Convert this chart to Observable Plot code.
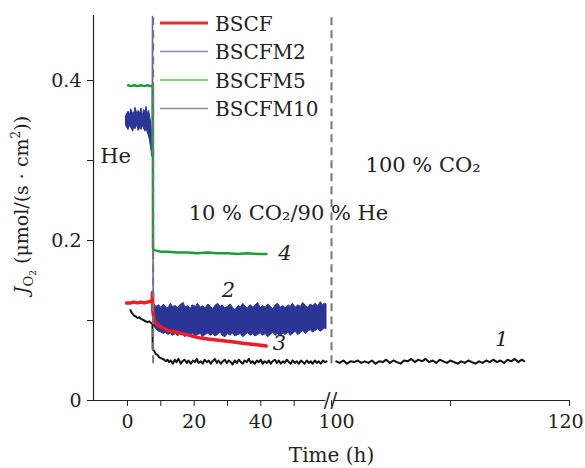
<!DOCTYPE html>
<html><head><meta charset="utf-8">
<script src="https://cdn.jsdelivr.net/npm/d3@7"></script>
<script src="https://cdn.jsdelivr.net/npm/@observablehq/plot@0.6"></script>
<style>body{margin:0;background:#fff}#chart{position:relative;width:585px;height:468px}</style>
</head><body><div id="chart"></div>
<script>
// ---- series names & colours ----
const seriesNames = ["BSCF", "BSCFM2", "BSCFM5", "BSCFM10"];
const legendColors = ["#ee2a2a", "#8c8cd2", "#5ec45e", "#8a8a8a"];
const dataColors = ["#ee1c24", "#2b3595", "#1b9b3a", "#111111"];

// ---- axis ticks ----
const xTicks = [0, 10, 20, 30, 40, 50, 100, 110, 120];
const xTickLabels = [0, 20, 40];
const xTickLabelsBreak = [100];
const xTickLabelsEdge = [120];
const yTicks = [0, 0.1, 0.2, 0.3, 0.4];
const yTickLabels = {0: "0", 0.2: "0.2", 0.4: "0.4"};
const switchTimes = [7.7, 100];
const dashFloor = 0.046;

// ---- BSCF (red) ----
const tBSCF = [-0.3,1,2,3,4,5,6,7,7.4,7.5,7.6,8,8.5,9,10,11,12,14,16,18,20,22,24,26,28,30,32,34,36,38,40,41.6];
const jBSCF = [0.122,0.122,0.123,0.122,0.123,0.122,0.123,0.124,0.126,0.135,0.112,0.100,0.097,0.095,0.092,0.090,0.088,0.086,0.084,0.082,0.080,0.078,0.077,0.076,0.075,0.074,0.073,0.072,0.071,0.070,0.069,0.068];

// ---- BSCFM2 (blue) : noisy band, envelope ----
const tM2a = [-0.4,0.3,0.8,1.1,1.7,2.1,2.4,3,3.3,3.9,4.2,4.6,5,5.4,5.7,6.1,6.5,6.9,7.2,7.4];
const hiM2a = [0.356,0.361,0.357,0.364,0.358,0.360,0.366,0.357,0.362,0.359,0.365,0.356,0.363,0.361,0.367,0.358,0.362,0.352,0.343,0.330];
const loM2a = [0.343,0.338,0.344,0.341,0.336,0.343,0.339,0.345,0.337,0.341,0.338,0.344,0.339,0.336,0.341,0.334,0.330,0.321,0.312,0.305];
const tM2spike = [7.4, 7.5, 7.6, 7.7];
const jM2spike = [0.305, 0.48, 0.30, 0.125];
const tM2b = [7.7,8,8.6,9.5,10.1,11,11.4,12.3,13,13.6,14.5,15.2,15.8,16.9,17.3,18.2,19,19.5,20.6,21.1,
  22,22.7,23.4,24.3,25,25.8,26.3,27.2,28,28.5,29.4,30.1,31,31.6,32.4,33.3,34,34.7,35.5,36.1,
  37,37.8,38.3,39.2,40,40.6,41.5,42.2,43,43.7,44.5,45.1,46,46.8,47.4,48.3,49,49.6,50.5,51.2,
  52,52.7,53.5,54.2,55,55.6,56.5,57.1,58,58.6,59.2,59.7];
const hiM2b = [0.125,0.121,0.117,0.119,0.116,0.120,0.117,0.115,0.121,0.117,0.118,0.115,0.119,0.122,0.116,0.118,0.114,0.119,0.117,0.121,
  0.116,0.118,0.115,0.120,0.117,0.114,0.118,0.121,0.116,0.119,0.115,0.117,0.120,0.116,0.113,0.118,0.116,0.121,0.117,0.115,
  0.119,0.116,0.118,0.122,0.115,0.118,0.116,0.120,0.117,0.114,0.119,0.121,0.116,0.118,0.115,0.119,0.117,0.121,0.116,0.119,
  0.117,0.122,0.118,0.116,0.120,0.118,0.121,0.117,0.123,0.119,0.121,0.120];
const loM2b = [0.100,0.093,0.089,0.086,0.085,0.083,0.085,0.082,0.084,0.081,0.083,0.080,0.084,0.082,0.079,0.083,0.081,0.084,0.080,0.082,
  0.083,0.079,0.082,0.084,0.081,0.083,0.080,0.082,0.085,0.081,0.079,0.083,0.081,0.084,0.080,0.082,0.083,0.079,0.082,0.084,
  0.081,0.083,0.080,0.082,0.084,0.081,0.083,0.079,0.082,0.085,0.081,0.083,0.080,0.084,0.082,0.085,0.081,0.083,0.086,0.082,
  0.084,0.087,0.083,0.086,0.088,0.085,0.087,0.089,0.086,0.088,0.090,0.089];

// ---- BSCFM5 (green) ----
const tM5 = [0.2,1,2,3,4,5,6,7,7.6,7.65,7.9,9,10,12,15,18,21,24,27,30,33,36,39,41.7];
const jM5 = [0.394,0.393,0.394,0.393,0.394,0.393,0.394,0.393,0.393,0.190,0.188,0.187,0.186,0.186,0.185,0.185,0.184,0.185,0.184,0.184,0.183,0.184,0.183,0.183];

// ---- BSCFM10 (black) ----
const tM10a = [0.9,1.2,1.6,2,2.5,3,3.5,4,4.5,5,5.5,6,6.5,7,7.4,
  7.5,7.55,8,8.5,9,9.5,10,10.5,11,11.5,12,12.5,
  13,13.6,14.2,14.7,15.3,16,16.5,17.1,17.8,18.3,19,19.6,20.2,20.8,21.3,22,
  22.6,23.1,23.8,24.4,25,25.5,26.2,26.8,27.3,28,28.6,29.2,29.8,30.4,31,31.5,
  32.2,32.8,33.4,34,34.6,35.1,35.8,36.4,37,37.5,38.2,38.8,39.4,40,40.6,41.1,
  41.8,42.4,43,43.5,44.2,44.8,45.4,46,46.6,47.1,47.8,48.4,49,49.5,50.2,50.8,
  51.4,52,52.6,53.1,53.8,54.4,55,55.5,56.2,56.8,57.4,58,58.6,59.2,59.7];
const jM10a = [0.113,0.110,0.108,0.106,0.105,0.103,0.104,0.102,0.101,0.100,0.099,0.098,0.099,0.097,0.096,
  0.095,0.064,0.062,0.058,0.057,0.054,0.053,0.052,0.051,0.049,0.051,0.048,
  0.050,0.046,0.051,0.048,0.052,0.046,0.049,0.051,0.047,0.050,0.046,0.050,0.048,0.052,0.047,0.049,
  0.046,0.051,0.048,0.050,0.046,0.049,0.052,0.047,0.050,0.046,0.049,0.051,0.047,0.050,0.048,0.045,
  0.050,0.047,0.051,0.048,0.046,0.050,0.048,0.052,0.047,0.049,0.046,0.050,0.048,0.051,0.046,0.049,
  0.047,0.050,0.046,0.049,0.051,0.047,0.050,0.046,0.049,0.047,0.051,0.048,0.046,0.050,0.047,0.049,
  0.046,0.050,0.048,0.046,0.050,0.047,0.049,0.046,0.050,0.047,0.049,0.046,0.050,0.048,0.049];
const tM10b = [100.4,100.7,101.0,101.3,101.6,101.9,102.2,102.5,102.8,103.1,103.4,103.7,104.0,104.3,104.6,104.9,
  105.2,105.5,105.8,106.1,106.4,106.7,107.0,107.3,107.6,107.9,108.2,108.5,108.8,109.1,109.4,109.7,
  110.0,110.3,110.6,110.9,111.2,111.5,111.8,112.1,112.4,112.7,113.0,113.3,113.6,113.9,114.2,114.5,
  114.8,115.1,115.4,115.7,116.0,116.2];
const jM10b = [0.049,0.047,0.050,0.046,0.049,0.048,0.050,0.047,0.049,0.047,0.050,0.046,0.049,0.048,0.051,0.047,
  0.050,0.048,0.046,0.050,0.049,0.052,0.048,0.051,0.049,0.052,0.048,0.050,0.047,0.051,0.049,0.047,
  0.050,0.048,0.046,0.049,0.047,0.050,0.048,0.046,0.049,0.047,0.050,0.048,0.051,0.048,0.050,0.047,
  0.051,0.049,0.052,0.048,0.051,0.049];

// ---- annotations ----
const notes = [
  {t: -3.6, j: 0.305, s: "He"},
  {t: 48.3, j: 0.234, s: "10 % CO₂/90 % He"},
  {t: 107.7, j: 0.294, s: "100 % CO₂"}
];
const curveNumbers = [
  {t: 47.2, j: 0.184, s: "4"},
  {t: 30.3, j: 0.138, s: "2"},
  {t: 45.6, j: 0.072, s: "3"},
  {t: 114.3, j: 0.076, s: "1"}
];
const axisSegments = [{a: -10.2, b: 59.5}, {a: 100.2, b: 120}];

const pts = (ts, js) => ts.map((t, i) => ({t, j: js[i]}));
const band = (ts, lo, hi) => ts.map((t, i) => ({t, lo: lo[i], hi: hi[i]}));

const font = "DejaVu Serif";
const plot = Plot.plot({
  width: 585, height: 468,
  marginLeft: 93, marginRight: 16, marginTop: 15, marginBottom: 68,
  style: {fontFamily: font, fontSize: "19px", color: "#222", background: "#fff"},
  x: {type: "linear", domain: [-10.2, 60, 100, 120], range: [93, 327, 331, 569]},
  y: {domain: [0, 0.48125]},
  marks: [
    Plot.axisX({ticks: xTicks, tickSize: 6, tickPadding: 8, label: null,
      tickFormat: d => xTickLabels.includes(d) ? String(d) : ""}),
    Plot.axisX({ticks: xTickLabelsBreak, tickSize: 0, tickPadding: 14, label: null, dx: 5,
      tickFormat: d => String(d)}),
    Plot.axisX({ticks: xTickLabelsEdge, tickSize: 0, tickPadding: 14, label: null, dx: -4,
      tickFormat: d => String(d)}),
    Plot.axisY({ticks: yTicks, tickSize: 6, tickPadding: 6, label: null,
      tickFormat: d => yTickLabels[d] ?? ""}),
    Plot.ruleX([-10.2], {stroke: "#222", strokeWidth: 1.2}),
    Plot.ruleY(axisSegments, {y: () => 0, x1: "a", x2: "b", stroke: "#222", strokeWidth: 1.2}),
    Plot.text(["//"], {x: () => 90, y: () => 0, text: d => d, fontSize: 20, fill: "#222"}),
    // BSCFM2
    Plot.areaY(band(tM2a, loM2a, hiM2a), {x: "t", y1: "lo", y2: "hi", fill: dataColors[1], stroke: dataColors[1], strokeWidth: 1}),
    Plot.lineY(pts(tM2spike, jM2spike), {x: "t", y: "j", stroke: "#5a5ac8", strokeWidth: 1.5}),
    Plot.areaY(band(tM2b, loM2b, hiM2b), {x: "t", y1: "lo", y2: "hi", fill: dataColors[1], stroke: dataColors[1], strokeWidth: 1}),
    // BSCFM5
    Plot.lineY(pts(tM5, jM5), {x: "t", y: "j", stroke: dataColors[2], strokeWidth: 2.5}),
    // BSCFM10
    Plot.lineY(pts(tM10a, jM10a), {x: "t", y: "j", stroke: dataColors[3], strokeWidth: 2}),
    Plot.lineY(pts(tM10b, jM10b), {x: "t", y: "j", stroke: dataColors[3], strokeWidth: 2}),
    // BSCF
    Plot.lineY(pts(tBSCF, jBSCF), {x: "t", y: "j", stroke: dataColors[0], strokeWidth: 3.5}),
    // switching lines
    Plot.ruleX(switchTimes, {y1: dashFloor, y2: 0.48125, stroke: "#777", strokeWidth: 2, strokeDasharray: "8,5"}),
    // annotations
    Plot.text(notes, {x: "t", y: "j", text: "s", fontSize: 21, fill: "#222"}),
    Plot.text(curveNumbers, {x: "t", y: "j", text: "s", fontSize: 21, fill: "#222", fontStyle: "italic"}),
    Plot.text(["Time (h)"], {frameAnchor: "bottom", text: d => d, dy: 61, lineAnchor: "bottom", fontSize: 20, fill: "#222"})
  ]
});
document.getElementById("chart").appendChild(plot);

// ---- y label and legend drawn into the same svg ----
const svg = d3.select(plot);
const yl = svg.append("text")
  .attr("transform", "translate(28,205) rotate(-90)")
  .attr("text-anchor", "middle")
  .attr("font-family", font).attr("font-size", 19).attr("fill", "#222");
yl.append("tspan").attr("font-style", "italic").text("J");
yl.append("tspan").attr("font-size", 13).attr("dy", 5).text("O");
yl.append("tspan").attr("font-size", 9).attr("dy", 3).text("2");
yl.append("tspan").attr("dy", -8).text(" (μmol/(s · cm");
yl.append("tspan").attr("font-size", 12).attr("dy", -8).text("2");
yl.append("tspan").attr("dy", 8).text("))");

const lg = svg.append("g");
seriesNames.forEach((name, i) => {
  const y = 23 + i * 28.5;
  lg.append("line").attr("x1", 160).attr("x2", 208).attr("y1", y).attr("y2", y)
    .attr("stroke", legendColors[i]).attr("stroke-width", i === 0 ? 3 : 1.6);
  lg.append("text").attr("x", 215).attr("y", y + 7.5).attr("text-anchor", "start")
    .attr("font-family", font).attr("font-size", 20).attr("fill", "#222").text(name);
});
</script>
</body></html>
